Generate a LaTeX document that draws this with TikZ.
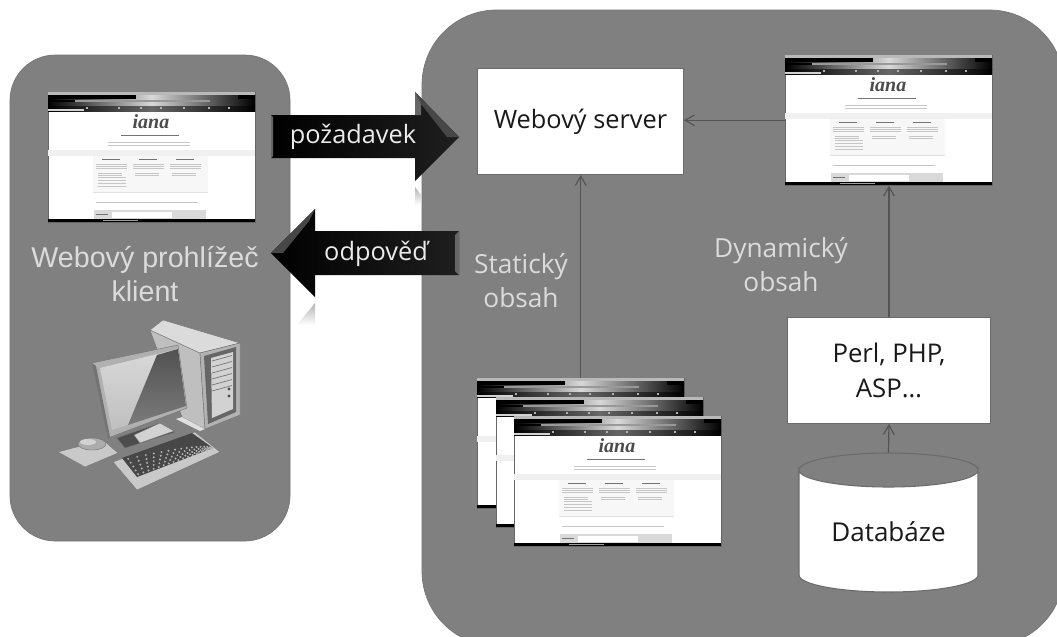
\documentclass[tikz,border=0pt]{standalone}
\usepackage{fontspec}
\setmainfont{Open Sans}
\newfontfamily\labelfont{Liberation Sans}
\newfontfamily\logofont{Liberation Serif}
\usetikzlibrary{arrows.meta,calc}
\definecolor{panelgray}{gray}{0.50}
\definecolor{labelgray}{gray}{0.86}
\definecolor{conn}{gray}{0.33}
\tikzset{
  x=0.75pt,y=-0.75pt,
  panel/.style={fill=panelgray,draw=panelgray!90!black,line width=0.5pt},
  whitebox/.style={fill=white,draw=black!58,line width=0.7pt,inner sep=0pt,align=center,text=black!90},
  shotframe/.style={fill=white,draw=black!60,line width=0.4pt,inner sep=0pt,minimum width=155.25pt,minimum height=97.5pt},
  pagetext/.style={gray!45,line width=0.5pt},
  pageline/.style={black!55,line width=0.6pt},
  flowarrow/.style={-{Straight Barb[length=7pt,width=8pt]},conn,line width=0.9pt},
  bigarrow/.style={left color=black,right color=black!88},
  bevel/.style={fill=black!72},
  arrowtext/.style={text=white!92!black,font=\fontsize{19}{22}\selectfont,inner sep=0pt},
  panellabel/.style={text=labelgray,align=center,inner sep=0pt,font=\fontsize{19.7}{25.5}\selectfont},
  reflect/.style={bottom color=white,top color=black!30,draw=none},
  hw/.style={line width=0.3pt,draw=black!55},
}
% browser screenshot: name, left, top
\newcommand{\shot}[3]{%
  \node[shotframe,anchor=north west] (#1) at (#2,#3) {};
  \begin{scope}[shift={(#2,#3)}]
    \fill[gray!55] (0,0) rectangle (207,3);
    \shade[left color=black,right color=black,middle color=gray!30] (0,3) rectangle (207,14);
    \fill[black] (0,3) rectangle (88,7);
    \fill[black] (190,3) rectangle (207,7);
    \fill[gray!80] (27,7.5) rectangle (162,10);
    \fill[black] (0,7.5) rectangle (27,10);
    \shade[left color=black,right color=black,middle color=black!60] (0,14) rectangle (207,19);
    \foreach \k in {38,70,92,112,135,160,180} \fill[white!70!black] (\k,15) rectangle +(1.5,1.5);
    \fill[gray!35] (0,16.5) rectangle (36,19);
    \fill[black] (0,127) rectangle (207,130);
    \fill[gray!75] (55,127.5) rectangle (90,128.5);
    \node[inner sep=0pt,font=\logofont\fontsize{15}{15}\selectfont\bfseries\itshape,text=black!70] at (103,30) {iana};
    \draw[pageline] (73,43) -- (131,43);
    \draw[pagetext] (60,50.5) -- (142,50.5);
    \draw[pagetext] (60,53) -- (142,53);
    \fill[gray!12] (0,58) rectangle (207,64);
    \fill[gray!6] (45,64) rectangle (160,100);
    \foreach \cx/\cy in {48/72,85/72,122/72}{
      \draw[black!55,line width=0.4pt] (\cx+6,\cy-4.5) -- (\cx+24,\cy-4.5);
      \foreach \ly in {0,2,4} \draw[pagetext,line width=0.45pt] (\cx,\cy+\ly) -- (\cx+31,\cy+\ly);
      \draw[pagetext,line width=0.45pt] (\cx+2,\cy+9) -- (\cx+26,\cy+9);
      \draw[pagetext,line width=0.45pt] (\cx+2,\cy+11) -- (\cx+26,\cy+11);
    }
    \foreach \ly in {85,88,91,94} \draw[pagetext,line width=0.45pt] (50,\ly) -- (78,\ly);
    \draw[gray!25,line width=0.5pt] (45,100) -- (160,100);
    \draw[pagetext] (48,110) -- (150,110);
    \fill[gray!30] (46,118) rectangle (158,127);
    \fill[white] (64,120) rectangle (124,126);
    \draw[pageline] (48,122) -- (60,122);
  \end{scope}}
\begin{document}
\begin{tikzpicture}
\useasboundingbox (0,0) rectangle (1057,636);
\fill[white] (0,0) rectangle (1057,636);
% panels
\path[panel,rounded corners=34pt] (10,55) rectangle (290,541);
\path[panel,rounded corners=56pt] (422,10) rectangle (1064,646);

% boxes
\node[whitebox,anchor=north west,minimum width=154.5pt,minimum height=79.5pt,font=\fontsize{19}{23}\selectfont] (server) at (477,68) {Webový server};
\node[whitebox,anchor=north west,minimum width=152.25pt,minimum height=79.5pt,font=\fontsize{19.3}{26.25}\selectfont] (perl) at (787,317) {Perl, PHP,\\ASP…};
% database: the node fixes the place, the drum is drawn round it
\path[fill=white,draw=black!58,line width=0.8pt]
  (799,470) arc[start angle=180,end angle=0,x radius=89.5,y radius=17]
  -- (978,575) arc[start angle=0,end angle=180,x radius=89.5,y radius=17] -- cycle;
\draw[black!58,line width=0.8pt]
  (799,470) arc[start angle=180,end angle=360,x radius=89.5,y radius=17];
\node[inner sep=0pt,minimum width=134.25pt,minimum height=104.25pt,font=\fontsize{19.5}{22}\selectfont,text=black!90] (db) at (888.5,522.5) {};
\node[inner sep=0pt,font=\fontsize{19.5}{22}\selectfont,text=black!90] (dblabel) at (888.5,532) {Databáze};

% screenshots
\shot{client}{48}{92}
\shot{dyn}{785}{55}
\shot{stackA}{477}{378}
\shot{stackB}{496}{397}
\shot{stackC}{514}{416}

% connectors
\draw[flowarrow] (stackA.north) -- (stackA.north |- server.south);
\draw[flowarrow] (perl.north) -- (perl.north |- dyn.south);
\draw[flowarrow] (db.north) -- (perl.south);
\draw[flowarrow] (dyn.west) -- (dyn.west -| server.east);

% reflections
\path[reflect] (415,187) -- (421,195) -- (421,205) -- (415,205) -- cycle;
\path[reflect] (315,303) -- (315,325) -- (297,325) -- cycle;

% big arrows
\path[bigarrow] (271,115) -- (415,115) -- (415,92) -- (459,137) -- (415,181) -- (415,158) -- (271,158) -- cycle;
\path[bevel] (415,92) -- (421,104) -- (447,137) -- (459,137) -- cycle;
\path[fill=black!60] (415,92) -- (421,104) -- (421,115) -- (415,115) -- cycle;
\path[fill=black!60] (271,115) -- (273,117) -- (273,156) -- (271,158) -- cycle;
\node[arrowtext] (req) at (353,137) {požadavek};

\path[bigarrow] (459,231) -- (315,231) -- (315,209) -- (271,253) -- (315,297) -- (315,275) -- (459,275) -- cycle;
\path[bevel] (315,209) -- (309,221) -- (283,253) -- (271,253) -- cycle;
\path[fill=black!60] (459,231) -- (455,235) -- (455,271) -- (459,275) -- cycle;
\node[arrowtext] (res) at (376,254) {odpověď};

% labels
\node[panellabel,font=\labelfont\fontsize{21.5}{25.5}\selectfont] (browserlabel) at (145,274) {Webový prohlížeč\\klient};
\node[panellabel] (staticlabel) at (521,281) {Statický\\obsah};
\node[panellabel] (dynlabel) at (781,265) {Dynamický\\obsah};

% computer
\begin{scope}
  % tower
  \path[hw,fill=gray!50] (150,330) -- (200,353) -- (205,429) -- (182,417) -- cycle;
  \path[hw,fill=gray!28] (150,330) -- (163,320) -- (240,343) -- (200,353) -- cycle;
  \path[hw,fill=gray!60] (200,353) -- (240,343) -- (240,415) -- (205,429) -- cycle;
  \path[fill=black!60] (204,356) -- (236,347) -- (236,412) -- (208,424) -- cycle;
  \path[fill=gray!35] (211,358) -- (233,352) -- (233,409) -- (212,418) -- cycle;
  \foreach \t in {0,1,2,3,4,5}
    \draw[black!55,line width=0.5pt] (212,361+\t*6) -- (232,355.5+\t*6);
  \fill[black!70] (229,389) circle (1.6);
  \fill[black!70] (229,396) circle (1.6);
  \path[fill=gray!25] (182,417) -- (205,429) -- (200,431) -- (176,419) -- cycle;
  % monitor stand
  \path[hw,fill=black!70] (117,438) -- (160,423) -- (175,432) -- (125,448) -- cycle;
  \path[hw,fill=gray!35] (134,435) -- (160,423) -- (174,431) -- (140,443) -- cycle;
  % monitor
  \path[hw,fill=gray!62] (92,363) -- (178,345) -- (187,408) -- (108,438) -- cycle;
  \path[top color=gray!30,bottom color=gray!50] (100,368) -- (178,349) -- (186,406) -- (112,430) -- cycle;
  \path[top color=black!68,bottom color=black!52] (157,355) -- (178,349) -- (186,406) -- (128,425) -- cycle;
  \path[fill=black!55] (92,363) -- (96,366) -- (110,437) -- (108,438) -- cycle;
  % mouse pad and mouse
  \path[hw,fill=gray!42] (58,452) -- (103,440) -- (118,453) -- (85,467) -- cycle;
  \path[hw,fill=gray!65] (92,444) ellipse (14 and 6);
  \path[fill=gray!35] (88,442) ellipse (8 and 3);
  % keyboard
  \path[hw,fill=gray!42] (113,462) -- (195,432) -- (220,452) -- (137,490) -- cycle;
  \path[fill=black!72] (122,458) -- (192,433) -- (213,448) -- (137,477) -- cycle;
  \foreach \u in {0,...,15}
    \foreach \v in {0,...,4}{
      \fill[gray!60]
        ($ (122,458)!{(\u+0.5)/16}!(192,433) !{(\v+0.5)/5}! (137,477)!{(\u+0.5)/16}!(213,448) $)
        circle (1.1);
    }
\end{scope}
\end{tikzpicture}
\end{document}
